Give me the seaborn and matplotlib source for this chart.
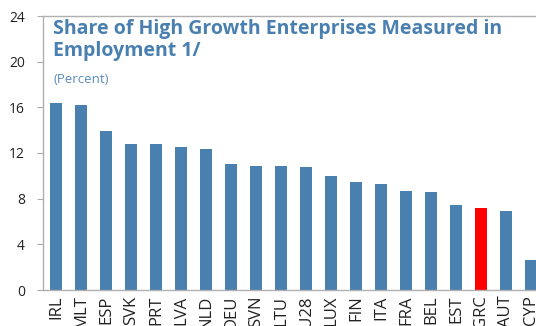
import matplotlib
matplotlib.use("Agg")
import matplotlib.pyplot as plt
import seaborn as sns
import pandas as pd

categories = ["IRL", "MLT", "ESP", "SVK", "PRT", "LVA", "NLD", "DEU", "SVN", "LTU",
              "EU28", "LUX", "FIN", "ITA", "FRA", "BEL", "EST", "GRC", "AUT", "CYP"]
values = [16.4, 16.2, 13.9, 12.8, 12.75, 12.5, 12.35, 11.0, 10.9, 10.85,
          10.75, 9.98, 9.46, 9.26, 8.64, 8.58, 7.47, 7.18, 6.92, 2.65]
highlight = "GRC"
yticks = [0, 4, 8, 12, 16, 20, 24]

blue = "#4A80B0"
red = "#FF0000"

sns.set_theme(style="white")
plt.rcParams["font.family"] = ["Open Sans", "DejaVu Sans"]

df = pd.DataFrame({"country": categories, "value": values})
palette = {c: (red if c == highlight else blue) for c in categories}

fig = plt.figure(figsize=(5.36, 3.26), dpi=100)
ax = fig.add_axes([43 / 536, 36 / 326, 1 - 43 / 536, (290 - 16) / 326])

sns.barplot(data=df, x="country", y="value", hue="country", palette=palette,
            width=0.5, legend=False, ax=ax, saturation=1, linewidth=0)

ax.set_xlim(-0.52, 19.2)
ax.set_ylim(0, 24)
ax.set_yticks(yticks)
ax.set_yticklabels([str(t) for t in yticks], fontsize=10, color="#222222")
ax.set_xlabel("")
ax.set_ylabel("")
ax.tick_params(axis="y", which="both", left=True, length=4, width=0.8,
               color="#aaaaaa", pad=9)
ax.tick_params(axis="x", bottom=False, length=0, pad=4)
for lbl in ax.get_xticklabels():
    lbl.set_rotation(90)
    lbl.set_fontsize(12)
    lbl.set_va("top")
    lbl.set_ha("center")
    lbl.set_color("#222222")

for side in ["left", "top", "bottom"]:
    ax.spines[side].set_visible(True)
    ax.spines[side].set_color("#b0b0b0")
    ax.spines[side].set_linewidth(1.0)
ax.spines["right"].set_visible(False)

fig.text(53 / 536, 1 - 19 / 326, "Share of High Growth Enterprises Measured in\nEmployment 1/",
         fontsize=14, fontweight="bold", color=blue, va="top", ha="left",
         linespacing=1.12)
fig.text(53 / 536, 1 - 73 / 326, "(Percent)", fontsize=9.5, color="#5B8CC0",
         va="top", ha="left")

fig.savefig("out.png", dpi=100)
